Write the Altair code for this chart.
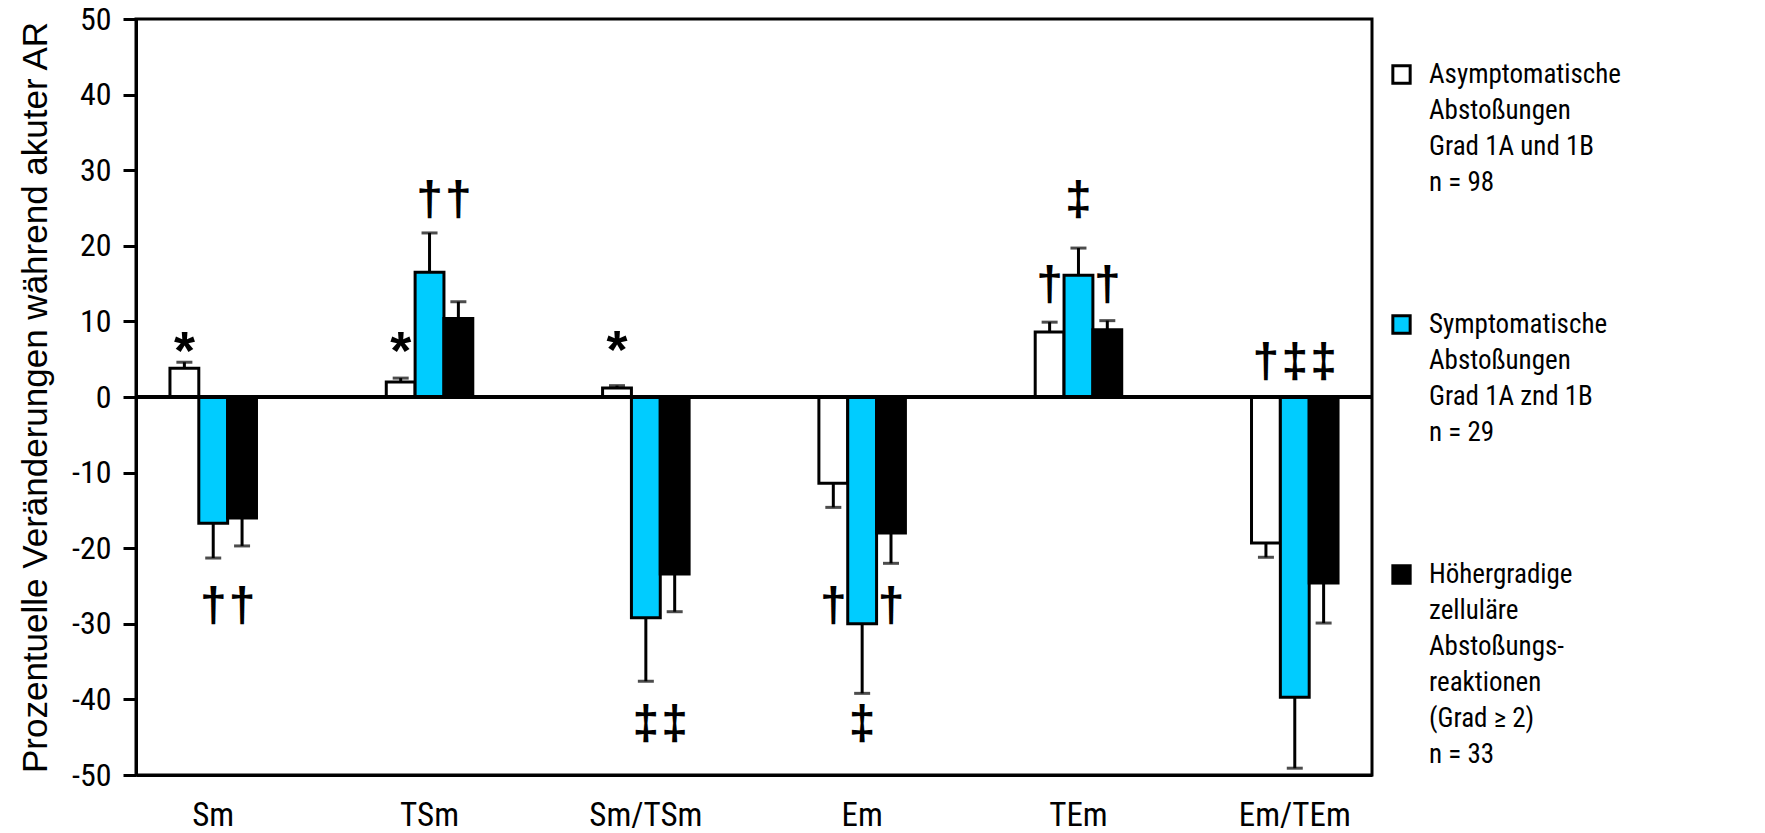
import altair as alt
import pandas as pd

categories = ["Sm", "TSm", "Sm/TSm", "Em", "TEm", "Em/TEm"]
series_names = [
    "Asymptomatische|Abstoßungen|Grad 1A und 1B|n = 98",
    "Symptomatische|Abstoßungen|Grad 1A znd 1B|n = 29",
    "Höhergradige|zelluläre|Abstoßungs-|reaktionen|(Grad ≥ 2)|n = 33",
]
series_colors = ["white", "#00CCFF", "black"]

asym_values = [3.8, 2.0, 1.2, -11.4, 8.6, -19.3]
sympt_values = [-16.7, 16.5, -29.2, -30.0, 16.1, -39.7]
hoeher_values = [-16.0, 10.4, -23.4, -18.0, 8.9, -24.6]

asym_se = [0.8, 0.5, 0.3, 3.2, 1.3, 1.9]
sympt_se = [4.6, 5.2, 8.4, 9.2, 3.6, 9.4]
hoeher_se = [3.7, 2.2, 5.0, 4.0, 1.2, 5.3]

# significance marks: category, series index, symbol, y (data units)
ann_cats = ["Sm", "Sm", "Sm", "TSm", "TSm", "TSm", "Sm/TSm", "Sm/TSm", "Sm/TSm",
            "Em", "Em", "Em", "TEm", "TEm", "TEm", "Em/TEm", "Em/TEm", "Em/TEm"]
ann_series = [0, 1, 2, 0, 1, 2, 0, 1, 2, 0, 1, 2, 0, 1, 2, 0, 1, 2]
ann_symbols = ["*", "†", "†", "*", "†", "†", "*", "‡", "‡",
               "†", "‡", "†", "†", "‡", "†", "†", "‡", "‡"]
ann_y = [7.7, -27.8, -27.8, 7.7, 25.9, 25.9, 7.8, -43.4, -43.4,
         -27.8, -43.4, -27.8, 14.7, 25.9, 14.7, 4.5, 4.5, 4.5]

rows = []
for i, c in enumerate(categories):
    for s, vals, ses in zip(series_names, [asym_values, sympt_values, hoeher_values],
                            [asym_se, sympt_se, hoeher_se]):
        v = vals[i]
        e = ses[i]
        rows.append({"cat": c, "series": s, "value": v,
                     "err_end": v + e if v >= 0 else v - e})
df = pd.DataFrame(rows)

ann = pd.DataFrame({
    "cat": ann_cats,
    "series": [series_names[k] for k in ann_series],
    "symbol": ann_symbols,
    "y": ann_y,
})

COND = "Roboto Condensed"
REG = "Liberation Sans"

x_enc = alt.X("cat:N", sort=categories, title=None,
              scale=alt.Scale(paddingInner=0.6, paddingOuter=0.157),
              axis=alt.Axis(labelAngle=0, ticks=False, labelPadding=24,
                            labelFont=COND, labelFontSize=33, labelColor="black",
                            domainColor="black", domainWidth=3))
xo_enc = alt.XOffset("series:N", sort=series_names,
                     scale=alt.Scale(domain=series_names, paddingInner=0, paddingOuter=0))
y_scale = alt.Scale(domain=[-50, 50], nice=False)
y_axis = alt.Axis(values=list(range(-50, 51, 10)), grid=False, tickSize=13, tickWidth=3,
                  tickColor="black", domainColor="black", domainWidth=3,
                  labelExpr="'' + datum.value",
                  labelFont=COND, labelFontSize=32, labelColor="black", labelPadding=12,
                  title="Prozentuelle Veränderungen während akuter AR",
                  titleFont=REG, titleFontSize=35, titleFontWeight="normal",
                  titleColor="black", titlePadding=18)

base = alt.Chart(df)

bars = base.mark_bar(stroke="black", strokeWidth=3).encode(
    x=x_enc,
    xOffset=xo_enc,
    y=alt.Y("value:Q", scale=y_scale, axis=y_axis),
    fill=alt.Fill("series:N", sort=series_names,
                  scale=alt.Scale(domain=series_names, range=series_colors),
                  legend=alt.Legend(
                      title=None, orient="none", legendX=1252, legendY=42,
                      labelExpr="split(datum.label, '|')",
                      symbolType="square", symbolSize=300, symbolStrokeWidth=3,
                      symbolStrokeColor="black", symbolOpacity=1,
                      labelFont=COND, labelFontSize=27,
                      labelColor="black", labelBaseline="middle", labelLimit=0,
                      labelOffset=14, rowPadding=113, padding=0)),
)

err_rules = base.mark_rule(color="black", strokeWidth=3).encode(
    x=alt.X("cat:N", sort=categories),
    xOffset=alt.XOffset("series:N", sort=series_names),
    y="value:Q",
    y2="err_end:Q",
)

err_caps = base.mark_tick(color="black", thickness=3, size=16, orient="horizontal").encode(
    x=alt.X("cat:N", sort=categories),
    xOffset=alt.XOffset("series:N", sort=series_names),
    y="err_end:Q",
)

zero = alt.Chart(df).mark_rule(color="black", strokeWidth=4).encode(y=alt.datum(0))

daggers = alt.Chart(ann).transform_filter("datum.symbol != '*'").mark_text(
    font=REG, fontSize=48, fontWeight="bold", color="black", baseline="middle"
).encode(
    x=alt.X("cat:N", sort=categories),
    xOffset=alt.XOffset("series:N", sort=series_names),
    y="y:Q",
    text="symbol:N",
)

stars = alt.Chart(ann).transform_filter("datum.symbol == '*'").mark_text(
    font=REG, fontSize=54, fontWeight="bold", color="black", baseline="middle", dy=14
).encode(
    x=alt.X("cat:N", sort=categories),
    xOffset=alt.XOffset("series:N", sort=series_names),
    y="y:Q",
    text="symbol:N",
)

chart = alt.layer(bars, err_rules, err_caps, zero, daggers, stars).properties(
    width=1236, height=756,
    padding={"left": 136, "top": 19, "right": 393, "bottom": 58},
    autosize=alt.AutoSizeParams(type="none"),
).configure(
    style={"guide-label": {"lineHeight": 36}}
).configure_view(stroke="black", strokeWidth=3)

chart.save("out.html", embed_options={"renderer": "svg", "actions": False})
